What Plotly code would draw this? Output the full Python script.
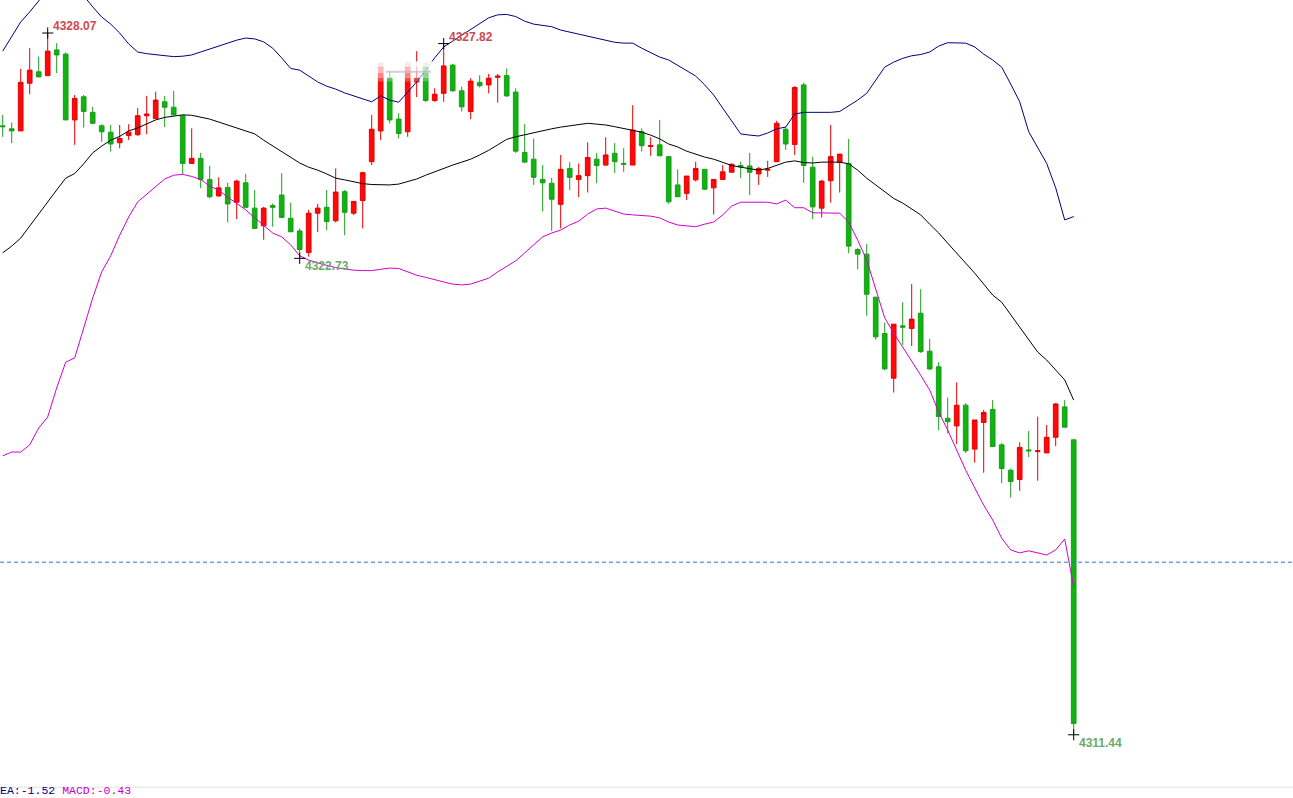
import plotly.graph_objects as go

# candle data (left to right)
opens = [4325.87, 4325.80, 4325.75, 4326.88, 4327.15, 4327.06, 4327.67, 4327.57, 4326.01, 4326.56,
         4326.19, 4325.87, 4325.72, 4325.47, 4325.64, 4325.66, 4326.11, 4326.04, 4326.44, 4326.31,
         4326.11, 4324.98, 4325.10, 4324.60, 4324.21, 4324.41, 4324.06, 4324.52, 4323.92, 4323.50,
         4323.98, 4324.23, 4323.68, 4323.38, 4322.87, 4323.80, 4323.94, 4323.62, 4324.31, 4323.80,
         4324.10, 4325.02, 4325.75, 4327.00, 4326.03, 4325.73, 4326.91, 4327.36, 4326.47, 4326.64,
         4327.31, 4326.70, 4326.21, 4326.90, 4326.84, 4327.02, 4327.06, 4326.67, 4325.24, 4325.08,
         4324.60, 4324.51, 4324.01, 4324.86, 4324.60, 4324.69, 4325.08, 4324.94, 4325.22, 4324.98,
         4324.94, 4325.73, 4325.38, 4325.42, 4325.14, 4324.47, 4324.27, 4324.59, 4324.84, 4324.40,
         4324.60, 4324.77, 4324.93, 4324.92, 4324.73, 4324.82, 4325.02, 4325.79, 4325.43, 4326.84,
         4324.89, 4323.92, 4324.57, 4325.00, 4324.98, 4322.94, 4322.83, 4321.81, 4320.95, 4319.89,
         4321.13, 4321.07, 4321.43, 4320.53, 4320.16, 4318.94, 4318.76, 4319.25, 4318.21, 4318.84,
         4319.15, 4318.31, 4317.71, 4317.49, 4318.19, 4318.15, 4318.12, 4318.49, 4319.21, 4318.43]
highs = [4326.13, 4325.95, 4327.22, 4327.71, 4327.51, 4328.07, 4327.83, 4327.61, 4326.60, 4326.60,
         4326.32, 4325.91, 4325.89, 4325.89, 4325.91, 4326.29, 4326.58, 4326.68, 4326.58, 4326.70,
         4326.13, 4325.81, 4325.23, 4324.92, 4324.65, 4324.52, 4324.59, 4324.73, 4324.35, 4323.95,
         4324.03, 4324.75, 4324.05, 4323.44, 4323.88, 4324.02, 4324.35, 4324.86, 4324.35, 4324.09,
         4324.78, 4326.13, 4327.38, 4327.15, 4326.17, 4327.38, 4327.64, 4327.38, 4326.76, 4327.82,
         4327.34, 4326.80, 4327.00, 4327.07, 4327.10, 4327.10, 4327.23, 4326.76, 4325.91, 4325.57,
         4324.94, 4324.64, 4325.18, 4325.01, 4324.98, 4325.48, 4325.23, 4325.60, 4325.46, 4325.34,
         4326.36, 4325.81, 4325.60, 4326.01, 4325.14, 4324.84, 4324.68, 4325.02, 4324.84, 4324.60,
         4324.94, 4324.98, 4325.02, 4325.23, 4324.90, 4325.04, 4325.99, 4325.85, 4326.81, 4326.89,
         4325.14, 4324.59, 4325.89, 4325.20, 4325.56, 4322.97, 4323.07, 4321.81, 4321.21, 4321.17,
         4321.69, 4322.12, 4322.00, 4320.82, 4320.27, 4319.43, 4319.79, 4319.30, 4318.90, 4319.14,
         4319.37, 4318.35, 4317.75, 4318.37, 4318.64, 4318.98, 4318.78, 4319.30, 4319.37, 4318.43]
lows = [4325.61, 4325.46, 4325.75, 4326.62, 4327.02, 4327.06, 4327.12, 4326.01, 4325.42, 4325.83,
        4325.93, 4325.49, 4325.26, 4325.34, 4325.53, 4325.63, 4325.67, 4326.04, 4325.84, 4326.13,
        4324.73, 4324.98, 4324.39, 4324.15, 4324.19, 4323.58, 4323.66, 4323.94, 4323.44, 4323.17,
        4323.48, 4323.68, 4323.36, 4322.73, 4322.77, 4323.35, 4323.40, 4323.58, 4323.28, 4323.76,
        4323.44, 4324.94, 4325.53, 4325.93, 4325.57, 4325.61, 4326.55, 4326.44, 4326.44, 4326.44,
        4326.68, 4326.21, 4326.03, 4326.78, 4326.64, 4326.42, 4326.56, 4325.23, 4325.01, 4324.47,
        4323.84, 4323.38, 4323.44, 4324.35, 4324.18, 4324.29, 4324.51, 4324.93, 4324.75, 4324.78,
        4324.94, 4325.26, 4325.16, 4325.16, 4324.02, 4324.19, 4324.11, 4324.55, 4324.35, 4323.77,
        4324.59, 4324.77, 4324.63, 4324.23, 4324.47, 4324.66, 4325.02, 4325.30, 4325.18, 4324.52,
        4323.66, 4323.70, 4324.05, 4324.29, 4322.85, 4322.47, 4321.37, 4320.80, 4320.08, 4319.55,
        4320.68, 4320.65, 4320.49, 4320.08, 4318.66, 4318.58, 4318.33, 4318.12, 4317.89, 4317.65,
        4318.27, 4317.40, 4317.06, 4317.22, 4318.02, 4317.46, 4318.12, 4318.28, 4318.73, 4311.44]
closes = [4325.85, 4325.75, 4326.90, 4327.19, 4327.03, 4327.64, 4327.55, 4326.01, 4326.52, 4326.21,
          4325.93, 4325.73, 4325.44, 4325.57, 4325.72, 4326.11, 4326.15, 4326.48, 4326.31, 4326.13,
          4324.98, 4325.10, 4324.60, 4324.19, 4324.40, 4324.02, 4324.56, 4323.94, 4323.44, 4323.92,
          4323.94, 4323.70, 4323.36, 4322.94, 4323.80, 4323.92, 4323.60, 4324.30, 4323.82, 4324.08,
          4324.76, 4325.79, 4327.36, 4326.01, 4325.69, 4327.36, 4327.00, 4326.47, 4326.62, 4327.29,
          4326.70, 4326.32, 4326.93, 4326.82, 4327.00, 4327.05, 4326.58, 4325.27, 4325.01, 4324.65,
          4324.52, 4324.13, 4324.84, 4324.65, 4324.69, 4325.12, 4324.93, 4325.18, 4325.02, 4324.96,
          4325.77, 4325.40, 4325.40, 4325.16, 4324.07, 4324.19, 4324.68, 4324.86, 4324.37, 4324.60,
          4324.78, 4324.96, 4324.90, 4324.77, 4324.86, 4324.84, 4325.93, 4325.44, 4326.78, 4324.93,
          4323.95, 4324.56, 4325.14, 4325.20, 4323.02, 4322.83, 4321.88, 4320.87, 4320.11, 4321.17,
          4321.10, 4321.29, 4320.52, 4320.11, 4318.98, 4318.86, 4319.25, 4318.17, 4318.90, 4319.08,
          4318.27, 4317.75, 4317.44, 4318.25, 4318.17, 4318.17, 4318.49, 4319.28, 4318.73, 4311.71]

# BOLL lines
boll_up = [4327.64, 4328.00, 4328.33, 4328.57, 4328.83, 4329.09, 4329.28, 4329.33, 4329.18, 4328.95,
           4328.69, 4328.45, 4328.28, 4328.07, 4327.81, 4327.62, 4327.58, 4327.56, 4327.53, 4327.51,
           4327.52, 4327.55, 4327.62, 4327.69, 4327.76, 4327.83, 4327.90, 4327.95, 4327.93, 4327.86,
           4327.71, 4327.48, 4327.23, 4327.19, 4327.05, 4326.91, 4326.81, 4326.74, 4326.65, 4326.58,
           4326.51, 4326.44, 4326.58, 4326.48, 4326.43, 4326.67, 4326.91, 4327.19, 4327.48, 4327.74,
           4327.88, 4328.02, 4328.14, 4328.28, 4328.43, 4328.50, 4328.51, 4328.46, 4328.35, 4328.28,
           4328.25, 4328.22, 4328.14, 4328.09, 4328.05, 4328.00, 4327.95, 4327.89, 4327.85, 4327.83,
           4327.83, 4327.71, 4327.60, 4327.50, 4327.43, 4327.31, 4327.19, 4327.05, 4326.84, 4326.60,
           4326.29, 4325.98, 4325.68, 4325.65, 4325.63, 4325.70, 4325.80, 4325.84, 4326.15, 4326.19,
           4326.19, 4326.19, 4326.19, 4326.21, 4326.34, 4326.48, 4326.64, 4326.96, 4327.26, 4327.38,
           4327.47, 4327.53, 4327.56, 4327.62, 4327.76, 4327.84, 4327.83, 4327.83, 4327.74, 4327.57,
           4327.43, 4327.26, 4326.86, 4326.44, 4325.73, 4325.37, 4324.98, 4324.40, 4323.64, 4323.72]
boll_mid = [4322.86, 4323.02, 4323.21, 4323.50, 4323.78, 4324.07, 4324.35, 4324.63, 4324.74, 4324.97,
            4325.23, 4325.39, 4325.53, 4325.62, 4325.75, 4325.82, 4325.91, 4326.01, 4326.07, 4326.10,
            4326.13, 4326.12, 4326.08, 4326.03, 4325.96, 4325.89, 4325.82, 4325.75, 4325.68, 4325.53,
            4325.39, 4325.25, 4325.11, 4324.99, 4324.89, 4324.82, 4324.73, 4324.63, 4324.59, 4324.54,
            4324.50, 4324.48, 4324.48, 4324.47, 4324.49, 4324.55, 4324.61, 4324.70, 4324.78, 4324.87,
            4324.94, 4325.01, 4325.08, 4325.18, 4325.29, 4325.42, 4325.55, 4325.61, 4325.66, 4325.71,
            4325.75, 4325.80, 4325.84, 4325.87, 4325.89, 4325.93, 4325.91, 4325.89, 4325.85, 4325.81,
            4325.77, 4325.72, 4325.65, 4325.56, 4325.44, 4325.37, 4325.27, 4325.20, 4325.13, 4325.08,
            4325.01, 4324.93, 4324.89, 4324.86, 4324.82, 4324.86, 4324.94, 4325.01, 4325.04, 4325.00,
            4324.99, 4325.01, 4325.01, 4325.01, 4324.97, 4324.82, 4324.63, 4324.47, 4324.30, 4324.15,
            4324.04, 4323.90, 4323.76, 4323.54, 4323.33, 4323.09, 4322.86, 4322.62, 4322.38, 4322.12,
            4321.86, 4321.69, 4321.39, 4321.08, 4320.79, 4320.51, 4320.32, 4320.08, 4319.85, 4319.37]
boll_dn = [4318.05, 4318.14, 4318.14, 4318.31, 4318.71, 4318.97, 4319.66, 4320.27, 4320.37, 4321.08,
           4321.79, 4322.41, 4322.79, 4323.28, 4323.71, 4324.07, 4324.25, 4324.44, 4324.61, 4324.70,
           4324.72, 4324.67, 4324.60, 4324.44, 4324.35, 4324.18, 4324.02, 4323.88, 4323.69, 4323.50,
           4323.33, 4323.24, 4323.05, 4322.79, 4322.69, 4322.62, 4322.57, 4322.51, 4322.48, 4322.45,
           4322.44, 4322.44, 4322.47, 4322.50, 4322.49, 4322.41, 4322.33, 4322.28, 4322.22, 4322.17,
           4322.12, 4322.10, 4322.12, 4322.19, 4322.26, 4322.41, 4322.55, 4322.67, 4322.86, 4323.05,
           4323.24, 4323.33, 4323.40, 4323.52, 4323.61, 4323.78, 4323.90, 4323.92, 4323.85, 4323.78,
           4323.76, 4323.74, 4323.73, 4323.69, 4323.59, 4323.52, 4323.50, 4323.48, 4323.54, 4323.59,
           4323.76, 4323.97, 4324.06, 4324.06, 4324.06, 4324.06, 4324.02, 4324.11, 4323.93, 4323.93,
           4323.81, 4323.81, 4323.81, 4323.80, 4323.59, 4323.16, 4322.69, 4321.98, 4321.32, 4320.96,
           4320.63, 4320.32, 4319.96, 4319.61, 4319.09, 4318.66, 4318.19, 4317.71, 4317.29, 4316.88,
           4316.53, 4316.10, 4315.82, 4315.75, 4315.80, 4315.75, 4315.70, 4315.82, 4316.08, 4314.94]

ref_price = 4315.53
dea_text = "EA:-1.52"
macd_text = "MACD:-0.43"

# which candles carry a high/low price label
high_marks = [5, 49]
low_marks = [33, 119]

x = list(range(len(opens)))

fig = go.Figure()

fig.add_trace(go.Candlestick(
    x=x, open=opens, high=highs, low=lows, close=closes,
    increasing=dict(line=dict(color="#e80000", width=1), fillcolor="#ff0a0a"),
    decreasing=dict(line=dict(color="#1a9e1a", width=1), fillcolor="#10b410"),
    whiskerwidth=0, hoverinfo="skip", showlegend=False,
))

fig.add_trace(go.Scatter(x=x, y=boll_up, mode="lines", line=dict(color="#000080", width=1),
                         hoverinfo="skip", showlegend=False))
fig.add_trace(go.Scatter(x=x, y=boll_mid, mode="lines", line=dict(color="#000000", width=1),
                         hoverinfo="skip", showlegend=False))
fig.add_trace(go.Scatter(x=x, y=boll_dn, mode="lines", line=dict(color="#d200d2", width=1),
                         hoverinfo="skip", showlegend=False))

# little crosses on the marked highs / lows
mx = high_marks + low_marks
my = [highs[i] for i in high_marks] + [lows[i] for i in low_marks]
fig.add_trace(go.Scatter(x=mx, y=my, mode="markers",
                         marker=dict(symbol="cross-thin", size=8, line=dict(color="black", width=1)),
                         hoverinfo="skip", showlegend=False))

for i in high_marks:
    fig.add_annotation(x=i, y=highs[i], text="<b>%.2f</b>" % highs[i], showarrow=False,
                       xanchor="left", yanchor="middle", xshift=3, yshift=7,
                       font=dict(family="Liberation Sans", size=12, color="#cd4a50"))
for i in low_marks:
    fig.add_annotation(x=i, y=lows[i], text="<b>%.2f</b>" % lows[i], showarrow=False,
                       xanchor="left", yanchor="middle", xshift=3, yshift=-8,
                       font=dict(family="Liberation Sans", size=12, color="#6aaa6a"))

# reference price line
fig.add_shape(type="line", xref="paper", x0=0, x1=1, yref="y", y0=ref_price, y1=ref_price,
              line=dict(color="#2f78c4", width=1, dash="4px,3px"))

# faded overlay over a few candle tops
fade = [(4327.40, 4327.25, 0.9), (4327.25, 4327.12, 0.72), (4327.12, 4327.00, 0.5), (4327.00, 4326.92, 0.25)]
for y0, y1, op in fade:
    fig.add_shape(type="rect", x0=41.4, x1=47.8, y0=y0, y1=y1, line_width=0,
                  fillcolor="white", opacity=op, layer="above")
fig.add_shape(type="line", x0=42.6, x1=47.6, y0=4327.15, y1=4327.15,
              line=dict(color="rgba(170,170,185,0.55)", width=2))

# bottom indicator strip
fig.add_shape(type="line", xref="paper", yref="paper", x0=0, x1=1, y0=0.0135, y1=0.0135,
              line=dict(color="#e2e2e2", width=1))
fig.add_annotation(xref="paper", yref="paper", x=0, y=0, xanchor="left", yanchor="bottom",
                   showarrow=False, xshift=-2, yshift=-1,
                   text="<span style='color:#000080'>%s</span> <span style='color:#c800c8'>%s</span>"
                        % (dea_text, macd_text),
                   font=dict(family="Liberation Mono", size=11.5))

fig.update_layout(
    width=1293, height=798,
    margin=dict(l=0, r=0, t=0, b=0),
    paper_bgcolor="white", plot_bgcolor="white",
    boxgap=0.26,
    showlegend=False,
    xaxis=dict(range=[-0.3, 143.367], visible=False, rangeslider=dict(visible=False), fixedrange=True),
    yaxis=dict(range=[4309.942, 4328.852], visible=False, fixedrange=True),
)

# page has a default body margin; drop it so the figure sits at the window corner
fig.write_html("out.html", config={"displayModeBar": False},
               post_script="document.body.style.margin='0';document.body.style.overflow='hidden';")
